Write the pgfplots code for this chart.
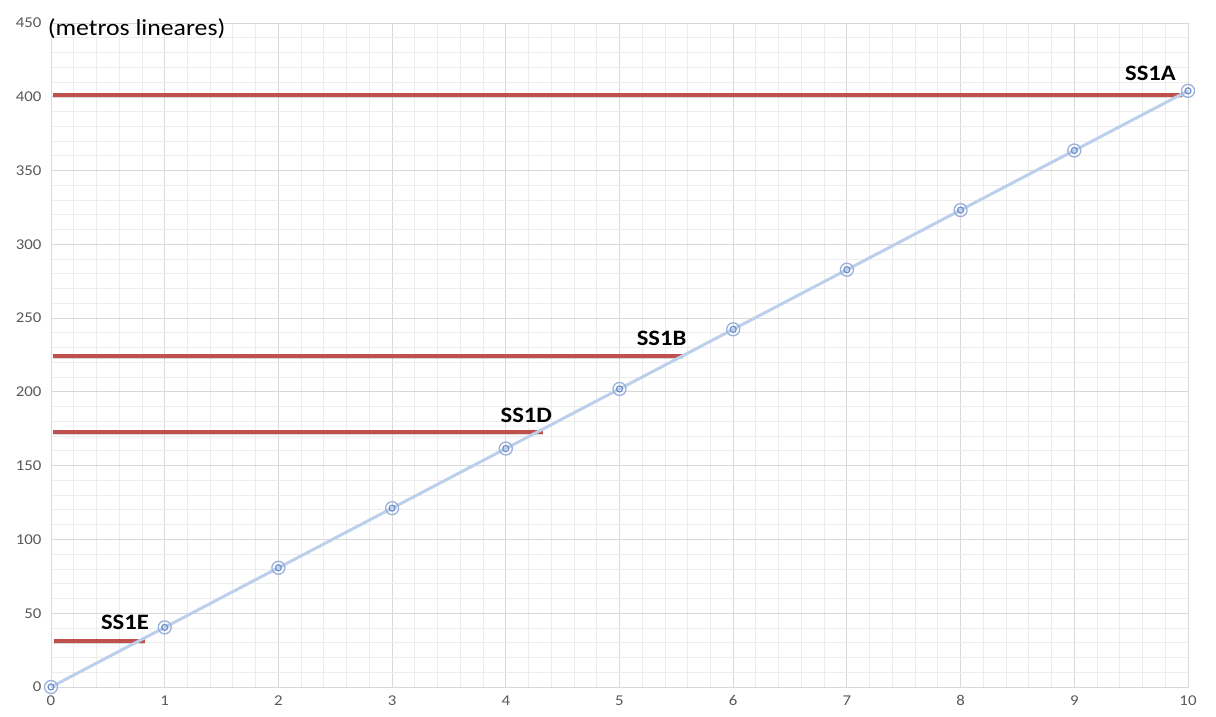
\documentclass[border=0pt]{standalone}
\usepackage{fontspec}
\setmainfont{Carlito}
\usepackage{pgfplots}
\pgfplotsset{compat=1.18}
\definecolor{gridmaj}{HTML}{D9D9D9}
\definecolor{gridmin}{HTML}{EDEDED}
\definecolor{ticklab}{HTML}{595959}
\definecolor{barred}{HTML}{C0504D}
\definecolor{trend}{HTML}{BCD0EB}
\definecolor{markblue}{HTML}{6E8FCB}
\newcommand{\wide}[1]{\scalebox{1.12}[1]{#1}}
\begin{document}
\begin{tikzpicture}
\begin{axis}[
  scale only axis, width=1137pt, height=664pt,
  at={(0,0)}, anchor=south west,
  xmin=0, xmax=10, ymin=0, ymax=450,
  xtick={0,...,10}, ytick={0,50,...,450},
  minor x tick num=4, minor y tick num=4,
  grid=both,
  major grid style={gridmaj, line width=0.9pt},
  minor grid style={gridmin, line width=0.9pt},
  axis line style={gridmaj, line width=0.9pt},
  tick style={draw=none},
  /pgf/number format/assume math mode=true,
  tick label style={font=\fontsize{15}{17}\selectfont, text=ticklab},
  xticklabel={\wide{\pgfmathprintnumber{\tick}}},
  yticklabel={\wide{\pgfmathprintnumber{\tick}}},
  xticklabel style={yshift=-5pt},
  yticklabel style={xshift=-6pt},
  clip=false,
]
% reference levels
\addplot[gray!60, line width=4pt, opacity=0.5, yshift=-1.5pt, forget plot] coordinates {(0.02,401.5) (9.95,401.5)};
\addplot[barred, line width=4pt] coordinates {(0.02,401.5) (9.95,401.5)};
\addplot[gray!60, line width=4pt, opacity=0.5, yshift=-1.5pt, forget plot] coordinates {(0.02,224.5) (5.56,224.5)};
\addplot[barred, line width=4pt] coordinates {(0.02,224.5) (5.56,224.5)};
\addplot[gray!60, line width=4pt, opacity=0.5, yshift=-1.5pt, forget plot] coordinates {(0.02,173) (4.33,173)};
\addplot[barred, line width=4pt] coordinates {(0.02,173) (4.33,173)};
\addplot[gray!60, line width=4pt, opacity=0.5, yshift=-1.5pt, forget plot] coordinates {(0.03,31.5) (0.83,31.5)};
\addplot[barred, line width=4pt] coordinates {(0.03,31.5) (0.83,31.5)};
% cumulative length
\addplot[trend, line width=3pt, mark=o, mark size=6.5pt,
  mark options={draw=markblue!70, line width=1.3pt, fill=white, fill opacity=0.4}]
  coordinates {(0,0) (1,40.4) (2,80.8) (3,121.2) (4,161.6) (5,202) (6,242.4) (7,282.8) (8,323.2) (9,363.6) (10,404)};
\addplot[only marks, mark=o, mark size=3pt, mark options={draw=markblue, line width=1.2pt}]
  coordinates {(0,0) (1,40.4) (2,80.8) (3,121.2) (4,161.6) (5,202) (6,242.4) (7,282.8) (8,323.2) (9,363.6) (10,404)};
% labels
\node[font=\bfseries\fontsize{22}{25}\selectfont] at (axis cs:9.67,416) {\wide{SS1A}};
\node[font=\bfseries\fontsize{22}{25}\selectfont] at (axis cs:5.37,236.6) {\wide{SS1B}};
\node[font=\bfseries\fontsize{22}{25}\selectfont] at (axis cs:4.18,184.4) {\wide{SS1D}};
\node[font=\bfseries\fontsize{22}{25}\selectfont] at (axis cs:0.65,43.6) {\wide{SS1E}};
\node[anchor=west, inner sep=0pt, font=\fontsize{23}{27}\selectfont] at (axis cs:-0.03,446) {\wide{(metros lineares)}};
\end{axis}
\pgfresetboundingbox
\path[use as bounding box] (-51pt,-30pt) rectangle (1165pt,687pt);
\end{tikzpicture}
\end{document}
